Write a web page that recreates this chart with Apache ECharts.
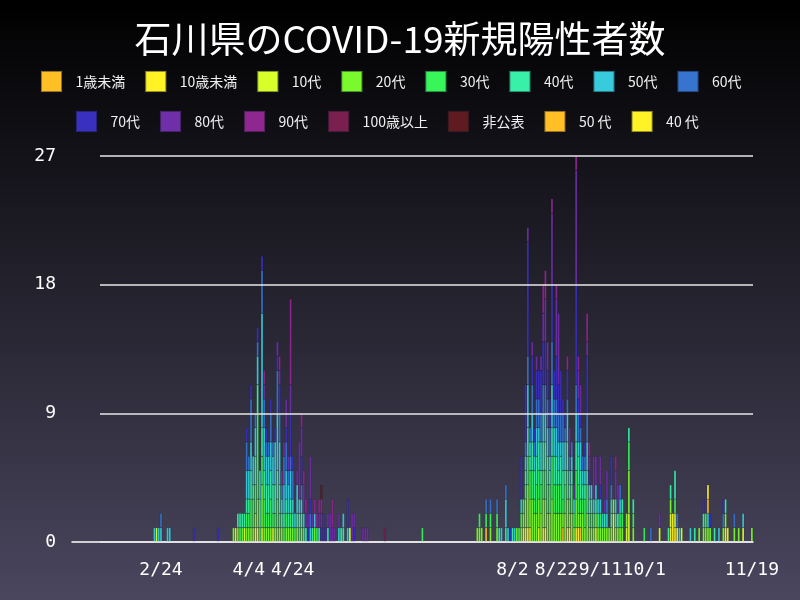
<!DOCTYPE html>
<html><head><meta charset="utf-8">
<script src="https://cdn.jsdelivr.net/npm/echarts@6/dist/echarts.min.js"></script>
<style>html,body{margin:0;padding:0;background:#000}#c{width:800px;height:600px}</style>
</head><body><div id="c"></div>
<script>
// ---- categories / labels ----
const groupNames = ['1歳未満','10歳未満','10代','20代','30代','40代','50代','60代','70代','80代','90代','100歳以上','非公表','50 代','40 代'];
const groupColors = ['#ffbf25','#fff325','#d8ff2a','#7afa2c','#38f55a','#38f0a8','#38cbdc','#3674d0','#3a30c0','#6e2fa8','#8e2890','#7a2050','#5e1c20','#ffbf25','#fff325'];
const xTickLabels = ['2/24','4/4','4/24','8/2','8/22','9/11','10/1','11/19'];
const yTicks = [0, 9, 18, 27];
const firstDay = [2020, 1, 15];
const lastDay = [2020, 11, 19];

// ---- daily new cases per age group (date -> count) ----
const ageUnder1 = {'7/21':1,'8/25':1,'9/2':1};
const ageUnder10 = {'8/9':1,'8/17':1,'8/28':1,'8/31':1,'9/1':1,'10/13':1,'10/14':2,'10/15':1,'10/16':1,'11/7':1};
const age10s = {'2/22':1,'3/29':1,'4/2':1,'4/7':1,'4/8':1,'4/10':1,'4/15':1,'5/20':1,'8/7':1,'8/8':1,'8/10':1,'8/14':1,'8/16':1,'8/27':1,'9/9':1,'9/17':2,'9/23':1,'9/24':2,'10/8':1,'10/13':1,'10/15':1,'10/18':1,'11/8':1,'11/15':1};
const age20s = {'3/28':1,'3/30':1,'4/1':1,'4/3':1,'4/4':1,'4/5':1,'4/6':1,'4/7':1,'4/8':2,'4/10':3,'4/11':1,'4/12':1,'4/13':1,'4/14':1,'4/16':1,'4/17':1,'4/18':1,'4/19':1,'4/21':1,'4/22':1,'4/23':1,'4/24':1,'4/26':1,'4/28':1,'5/4':1,
 '7/17':1,'7/18':1,'7/19':1,'7/23':1,'7/26':1,'8/4':1,'8/6':1,'8/7':1,'8/8':2,'8/9':3,'8/10':2,'8/11':3,'8/12':2,'8/13':2,'8/14':2,'8/15':2,'8/16':2,'8/17':2,'8/18':2,'8/19':2,'8/20':3,'8/21':2,'8/22':2,'8/23':2,'8/24':2,'8/25':1,'8/26':2,'8/27':2,'8/28':1,'8/29':2,'8/30':1,'8/31':2,'9/1':1,'9/2':1,'9/3':2,'9/4':1,'9/5':2,'9/6':1,'9/7':1,'9/8':1,'9/9':1,'9/10':1,'9/11':1,'9/12':1,'9/13':1,'9/14':1,'9/15':1,'9/16':1,'9/17':1,'9/18':1,'9/19':1,'9/20':1,'9/21':1,'9/23':1,'9/24':3,'9/26':1,'10/13':1,'10/26':1,'10/28':1,'10/29':1,'10/30':1,'10/31':1,'11/6':1,'11/7':1,'11/11':1,'11/13':1,'11/19':1};
const age30s = {'3/31':1,'4/3':1,'4/4':1,'4/5':2,'4/6':2,'4/7':2,'4/8':6,'4/9':1,'4/10':2,'4/11':2,'4/12':1,'4/13':1,'4/14':2,'4/15':1,'4/16':1,'4/17':2,'4/18':1,'4/20':1,'4/21':1,'4/23':1,'4/25':1,'4/27':1,'5/5':1,'6/22':1,
 '7/18':1,'7/21':1,'7/23':1,'7/26':1,'8/5':1,'8/6':1,'8/7':1,'8/8':1,'8/9':2,'8/10':2,'8/11':2,'8/12':1,'8/13':2,'8/14':2,'8/15':2,'8/16':2,'8/17':2,'8/18':2,'8/19':2,'8/20':3,'8/21':2,'8/22':2,'8/23':2,'8/24':2,'8/25':1,'8/26':2,'8/27':2,'8/28':1,'8/29':2,'8/30':1,'8/31':2,'9/1':2,'9/2':1,'9/3':1,'9/4':2,'9/5':2,'9/6':1,'9/7':1,'9/8':1,'9/11':1,'9/20':1,'9/21':1,'9/24':2,'9/26':1,'10/1':1,'10/15':1,'10/29':1};
const age40s = {'3/30':1,'3/31':1,'4/1':1,'4/2':1,'4/3':1,'4/4':1,'4/5':2,'4/6':1,'4/7':2,'4/8':2,'4/9':2,'4/10':2,'4/11':2,'4/12':2,'4/13':2,'4/14':2,'4/15':2,'4/16':2,'4/17':2,'4/18':2,'4/19':1,'4/20':1,'4/21':1,'4/22':1,'4/23':1,'4/24':1,'4/26':1,'4/27':1,'4/28':1,'4/29':1,'4/30':1,'5/3':1,'5/6':1,'5/10':1,'5/16':1,'5/17':1,
 '7/27':1,'7/30':1,'8/2':1,'8/8':1,'8/9':2,'8/10':1,'8/11':2,'8/12':2,'8/13':2,'8/14':2,'8/15':1,'8/16':2,'8/17':2,'8/18':2,'8/19':1,'8/20':2,'8/21':2,'8/22':2,'8/23':1,'8/24':2,'8/25':2,'8/26':1,'8/27':2,'8/28':1,'8/29':1,'8/31':2,'9/1':2,'9/2':2,'9/3':1,'9/4':1,'9/5':1,'9/6':1,'9/7':1,'9/9':1,'9/10':1,'9/13':1,'9/16':1,'9/18':1,'9/19':1,'9/21':1,'9/24':1,'9/26':1,'10/12':1,'10/13':1,'10/15':2,'10/24':1,'10/28':1,'11/2':1,'11/7':1};
const age50s = {'2/21':1,'2/23':1,'2/24':1,'2/27':1,'2/28':1,'4/3':2,'4/4':2,'4/5':2,'4/6':2,'4/7':2,'4/8':2,'4/9':2,'4/10':8,'4/11':3,'4/12':2,'4/13':2,'4/14':2,'4/15':2,'4/16':3,'4/17':4,'4/18':3,'4/19':1,'4/20':2,'4/21':2,'4/22':2,'4/23':2,'4/24':1,'4/25':1,'4/26':2,'4/27':1,'4/28':1,'4/29':1,'5/2':1,'5/4':1,'5/15':1,'5/17':1,'5/19':1,
 '7/28':1,'7/30':2,'7/31':1,'8/3':1,'8/6':1,'8/8':1,'8/9':3,'8/10':1,'8/11':2,'8/12':1,'8/13':2,'8/14':1,'8/15':2,'8/16':2,'8/17':2,'8/18':2,'8/19':1,'8/20':3,'8/21':2,'8/22':2,'8/23':2,'8/24':1,'8/25':2,'8/26':2,'8/27':2,'8/28':1,'8/29':1,'8/30':1,'8/31':2,'9/1':1,'9/2':2,'9/3':1,'9/4':1,'9/5':2,'9/6':1,'9/7':1,'9/8':1,'9/9':1,'9/10':1,'9/11':1,'9/12':1,'9/14':1,'9/16':1,'9/18':1,'9/20':1,'10/17':1,'10/22':1,'10/30':1,'11/4':1,'11/15':1};
const age60s = {'2/24':1,'4/3':2,'4/4':1,'4/5':3,'4/7':1,'4/8':1,'4/10':3,'4/11':2,'4/12':1,'4/13':1,'4/14':2,'4/15':1,'4/17':3,'4/18':2,'4/19':1,'4/20':2,'4/21':2,'4/22':1,'4/23':1,'4/24':2,'4/28':1,'5/2':1,
 '7/21':1,'7/23':1,'7/26':1,'7/30':1,'8/8':1,'8/9':2,'8/10':1,'8/11':2,'8/12':1,'8/13':2,'8/14':2,'8/15':2,'8/16':2,'8/17':2,'8/18':2,'8/19':2,'8/20':3,'8/21':2,'8/22':2,'8/23':2,'8/24':2,'8/25':2,'8/26':1,'8/27':1,'8/28':1,'8/29':1,'8/31':2,'9/1':2,'9/2':1,'9/3':1,'9/4':1,'9/5':2,'9/14':1,'9/16':1,'9/20':1,'10/4':1,'10/16':1,'11/6':1,'11/11':1};
const age70s = {'3/10':1,'3/21':1,'4/3':1,'4/5':1,'4/8':1,'4/10':1,'4/12':1,'4/14':1,'4/16':1,'4/17':1,'4/18':2,'4/21':1,'4/23':3,'4/24':1,'4/28':2,'5/1':1,'5/2':1,'5/7':1,'5/8':2,'5/9':1,'5/19':2,'5/22':1,
 '8/1':1,'8/6':3,'8/8':4,'8/9':8,'8/11':2,'8/12':1,'8/13':2,'8/14':2,'8/15':3,'8/16':3,'8/17':3,'8/18':2,'8/19':2,'8/20':4,'8/21':2,'8/22':3,'8/23':2,'8/24':3,'8/25':1,'8/26':1,'8/27':2,'8/31':7,'9/1':1,'9/2':1,'9/4':1,'9/5':4,'9/6':1,'9/11':1,'9/16':2,'10/28':1,'10/31':1,'11/6':1};
const age80s = {'4/11':1,'4/17':1,'4/18':1,'4/20':1,'4/21':2,'4/22':1,'4/23':2,'4/26':1,'4/27':4,'4/28':2,'4/29':2,'4/30':1,'5/1':1,'5/2':3,'5/3':1,'5/6':1,'5/7':1,'5/10':1,'5/11':2,'5/12':1,'5/13':1,'5/15':1,'5/21':2,'5/22':1,'5/26':1,'5/27':1,'5/28':1,
 '8/9':1,'8/11':1,'8/13':1,'8/15':1,'8/16':2,'8/17':3,'8/18':2,'8/20':5,'8/22':4,'8/23':5,'8/28':2,'8/30':1,'8/31':8,'9/1':2,'9/2':2,'9/5':1,'9/6':1,'9/8':3,'9/9':2,'9/11':2,'9/13':1,'9/14':2,'9/18':2,'9/19':2,'10/8':1};
const age90s = {'4/11':1,'4/18':1,'4/19':1,'4/23':6,'4/28':1,'4/29':1,'4/30':1,'5/4':1,'5/5':1,'5/6':1,'5/7':1,'5/12':2,
 '8/16':2,'8/17':2,'8/20':1,'8/22':1,'8/27':1,'8/31':1,'9/1':1,'9/5':2,'9/6':1,'9/18':1};
const age100plus = {'6/5':1};
const ageUndisclosed = {'5/7':1};
const age50sAlt = {'10/30':1};
const age40sAlt = {'10/30':1};

const groupData = [ageUnder1, ageUnder10, age10s, age20s, age30s, age40s, age50s, age60s, age70s, age80s, age90s, age100plus, ageUndisclosed, age50sAlt, age40sAlt];

// ---- build the day categories ----
const days = [];
{
  let t = Date.UTC(firstDay[0], firstDay[1]-1, firstDay[2]);
  const end = Date.UTC(lastDay[0], lastDay[1]-1, lastDay[2]);
  while (t <= end) {
    const d = new Date(t);
    days.push((d.getUTCMonth()+1) + '/' + d.getUTCDate());
    t += 86400000;
  }
}

const FONT = "'Noto Sans CJK JP', 'Noto Sans', sans-serif";
const MONO = "'DejaVu Sans Mono', monospace";
const series = groupNames.map((name, i) => ({
  name: name,
  type: 'bar',
  stack: 'total',
  xAxisIndex: 0, yAxisIndex: 0,
  barCategoryGap: '0%',
  data: days.map(d => groupData[i][d] ? groupData[i][d] : null),
  itemStyle: { color: groupColors[i], borderColor: 'rgba(20,20,30,0.45)', borderWidth: 0.4 },
  emphasis: { disabled: true }
}));

const legendCommon = {
  orient: 'horizontal',
  icon: 'path://M0,0L1,0L1,1L0,1Z',
  itemWidth: 38, itemHeight: 21, itemGap: 19,
  textStyle: { color: '#f0f0f0', fontSize: 14, fontFamily: FONT },
  selectedMode: false
};

const chart = echarts.init(document.getElementById('c'), null, { renderer: 'canvas' });
chart.setOption({
  animation: false,
  backgroundColor: { type: 'linear', x: 0, y: 0, x2: 0, y2: 1,
    colorStops: [{ offset: 0, color: '#000000' }, { offset: 1, color: '#4a465e' }] },
  color: groupColors,
  title: {
    text: '石川県のCOVID-19新規陽性者数',
    left: 'center', top: 15,
    textStyle: { color: '#ffffff', fontSize: 37, fontWeight: 'normal', fontFamily: FONT }
  },
  legend: [
    Object.assign({}, legendCommon, { data: groupNames.slice(0, 8), left: 35, top: 65 }),
    Object.assign({}, legendCommon, { data: groupNames.slice(8), left: 70, top: 105 })
  ],
  grid: [
    { left: 72, right: 47, top: 156, bottom: 58, containLabel: false },
    { left: 100, right: 47, top: 156, bottom: 58, containLabel: false }
  ],
  xAxis: [{
    type: 'category',
    gridIndex: 0,
    data: days,
    axisLine: { show: true, lineStyle: { color: '#ffffff', width: 1.5 } },
    axisTick: { show: false },
    axisLabel: {
      color: '#ffffff', fontSize: 18, fontFamily: MONO, margin: 19,
      interval: (idx, val) => xTickLabels.indexOf(val) >= 0,
      hideOverlap: false
    },
    splitLine: { show: false }
  }, {
    type: 'value', gridIndex: 1, show: false
  }],
  yAxis: [{
    type: 'value', gridIndex: 0,
    min: yTicks[0], max: yTicks[yTicks.length-1], interval: yTicks[1]-yTicks[0],
    axisLine: { show: false }, axisTick: { show: false },
    axisLabel: { show: false }, splitLine: { show: false }
  }, {
    type: 'value', gridIndex: 1,
    min: yTicks[0], max: yTicks[yTicks.length-1], interval: yTicks[1]-yTicks[0],
    z: 3,
    axisLine: { show: false }, axisTick: { show: false },
    axisLabel: { color: '#ffffff', fontSize: 18, fontFamily: MONO, margin: 44 },
    splitLine: { show: true, lineStyle: { color: '#e8e8e8', width: 1.5 } }
  }],
  series: series
});
</script></body></html>
